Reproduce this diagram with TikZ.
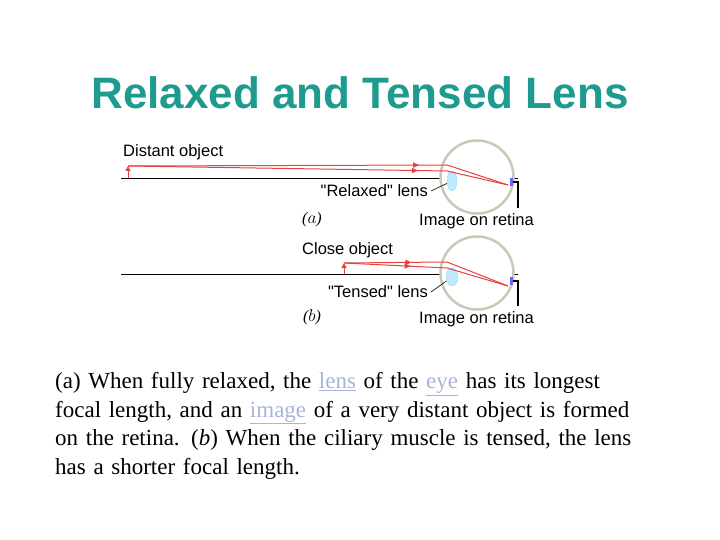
\documentclass[tikz,border=0pt]{standalone}
\usepackage{fontspec}
\setmainfont{Liberation Serif}
\setsansfont{Liberation Sans}
\newfontfamily\lblfont{Liberation Sans}
\usetikzlibrary{arrows.meta,decorations.markings,shapes.geometric}
\definecolor{ttl}{HTML}{1F9A8E}
\definecolor{ray}{HTML}{E8403F}
\definecolor{lnk}{HTML}{A9B4D8}
\definecolor{eyeg}{HTML}{C9C9B8}
\begin{document}
\begin{tikzpicture}[x=1pt,y=-1pt,
 lbl/.style={font=\lblfont\fontsize{16.5}{18}\selectfont,inner sep=0pt},
 rayl/.style={ray,line width=1pt},
 mid/.style={postaction={decorate},decoration={markings,mark=at position #1 with {\arrow{Triangle[length=6pt,width=5pt]}}}},
 eyeball/.style={draw=eyeg,line width=2.5pt,fill=white},
 lensel/.style={fill=cyan!25,draw=cyan!40},
 lead/.style={line width=0.6pt}]
\useasboundingbox (0,0) rectangle (720,540);
\node[font=\sffamily\bfseries\fontsize{44}{50}\selectfont,text=ttl] (title) at (360,93) {Relaxed and Tensed Lens};
% (a)
\draw (121,178) -- (518,178);
\node[eyeball,circle,minimum size=73pt] (eyeA) at (477,177) {};
\node[lensel,ellipse,minimum width=10pt,minimum height=20pt,inner sep=0pt] (lensA) at (452,181) {};
\node[fill=blue!60,minimum width=3pt,minimum height=8pt,inner sep=0pt] (retA) at (511,182) {};
\coordinate (oA) at (128,166);
\coordinate (obA) at (128,178);
\draw[ray,line width=1pt,-{Triangle[length=5pt,width=5pt]}] (obA) -- (oA);
\coordinate (fA1) at (447,165); \coordinate (fA2) at (447,171); \coordinate (iA) at (508,185);
\draw[rayl,mid=0.76] (oA) -- (fA1) -- (iA);
\draw[rayl,mid=0.76] (oA) -- (fA2) -- (iA);
\node[lbl,anchor=west] (dist) at (123,152) {Distant object};
\node[lbl,anchor=east] (relax) at (428,191) {"Relaxed" lens};
\draw[lead] (relax.east) ++(3,0) -- (lensA);
\node[font=\itshape\fontsize{16}{18}\selectfont] (a) at (312,220) {($a$)};
\node[lbl,anchor=west] (imgA) at (419,221) {Image on retina};
\draw[line width=1.2pt] (retA.east) -| (518,208);
% (b)
\draw (121,274) -- (518,274);
\node[eyeball,circle,minimum size=73pt] (eyeB) at (477,273) {};
\node[lensel,ellipse,minimum width=12pt,minimum height=18pt,inner sep=0pt] (lensB) at (452,277) {};
\node[fill=blue!60,minimum width=3pt,minimum height=8pt,inner sep=0pt] (retB) at (511,281) {};
\coordinate (oB) at (344,263);
\coordinate (obB) at (344,274);
\draw[ray,line width=1pt,-{Triangle[length=5pt,width=5pt]}] (obB) -- (oB);
\coordinate (fB1) at (447,262); \coordinate (fB2) at (447,268); \coordinate (iB) at (508,286);
\draw[rayl,mid=0.4] (oB) -- (fB1) -- (iB);
\draw[rayl,mid=0.4] (oB) -- (fB2) -- (iB);
\node[lbl,anchor=west] (close) at (302,250) {Close object};
\node[lbl,anchor=east] (tense) at (428,292) {"Tensed" lens};
\draw[lead] (tense.east) ++(3,0) -- (lensB);
\node[font=\itshape\fontsize{16}{18}\selectfont] (b) at (312,317) {($b$)};
\node[lbl,anchor=west] (imgB) at (419,319) {Image on retina};
\draw[line width=1.2pt] (retB.east) -| (518,306);
% caption
\node[anchor=north west,inner sep=0pt,text width=640pt,align=left,
  font=\fontsize{23}{28.7}\selectfont] (cap) at (55,372)
 {(a) When fully relaxed, the \textcolor{lnk}{\underline{lens}} of the \textcolor{lnk}{\underline{eye}} has its longest\\
 focal length, and an \textcolor{lnk}{\underline{image}} of a very distant object is formed\\
 on the retina. (\textit{b}) When the ciliary muscle is tensed, the lens\\
 has a shorter focal length.};
\end{tikzpicture}
\end{document}
